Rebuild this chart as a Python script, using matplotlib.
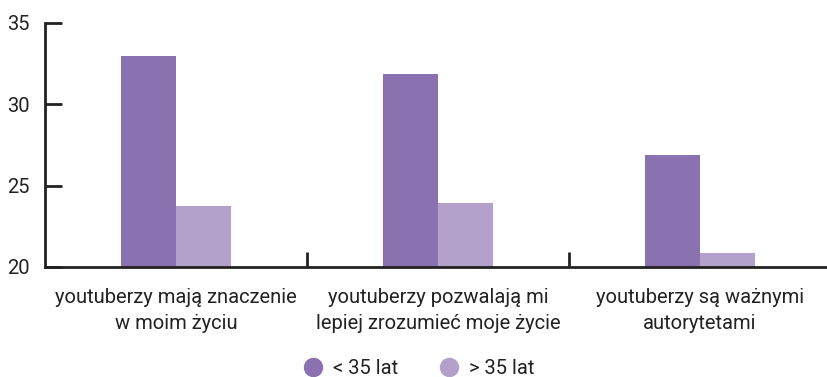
import numpy as np
import matplotlib.pyplot as plt
from matplotlib.lines import Line2D

plt.rcParams['font.family'] = ['Roboto', 'DejaVu Sans']

categories = ["youtuberzy mają znaczenie\nw moim życiu",
              "youtuberzy pozwalają mi\nlepiej zrozumieć moje życie",
              "youtuberzy są ważnymi\nautorytetami"]
under_35 = [32.95, 31.85, 26.9]
over_35 = [23.75, 23.9, 20.85]
series_names = ["< 35 lat", "> 35 lat"]
colors = ["#8a72b0", "#b3a1cc"]
ink = "#222222"

fig = plt.figure(figsize=(8.27, 3.77), dpi=100)
ax = fig.add_axes([45 / 827, 1 - 267 / 377, 782 / 827, (267 - 22.5) / 377])

x = np.arange(len(categories))
w = 0.21
ax.bar(x - w / 2, under_35, w, color=colors[0])
ax.bar(x + w / 2, over_35, w, color=colors[1])

ax.set_ylim(20, 35)
ax.set_xlim(-0.5, 2.5 - 4 / 262)
ax.set_yticks([20, 25, 30, 35])

# category separators on the x axis
ax.set_xticks([0.5, 1.5])
ax.set_xticklabels([])
ax.set_xticks(x, minor=True)
ax.set_xticklabels(categories, minor=True, fontsize=14.5, color=ink,
                   linespacing=1.5)
ax.tick_params(axis="x", which="minor", length=0, pad=15)
ax.tick_params(axis="x", which="major", direction="in", length=11,
               width=2, color=ink)
ax.tick_params(axis="y", direction="in", length=12, width=2,
               color=ink, labelsize=14.5, labelcolor=ink, pad=11)

for s in ["top", "right"]:
    ax.spines[s].set_visible(False)
for s in ["left", "bottom"]:
    ax.spines[s].set_linewidth(2)
    ax.spines[s].set_color(ink)

handles = [Line2D([], [], marker="o", linestyle="", markersize=13,
                  markerfacecolor=c, markeredgecolor=c) for c in colors]
fig.legend(handles, series_names, loc="center", bbox_to_anchor=(0.5, 1 - 369 / 377),
           ncol=2, frameon=False, fontsize=14.5, handletextpad=0.0,
           columnspacing=1.55, labelcolor=ink)

fig.savefig("out.png", dpi=100)
